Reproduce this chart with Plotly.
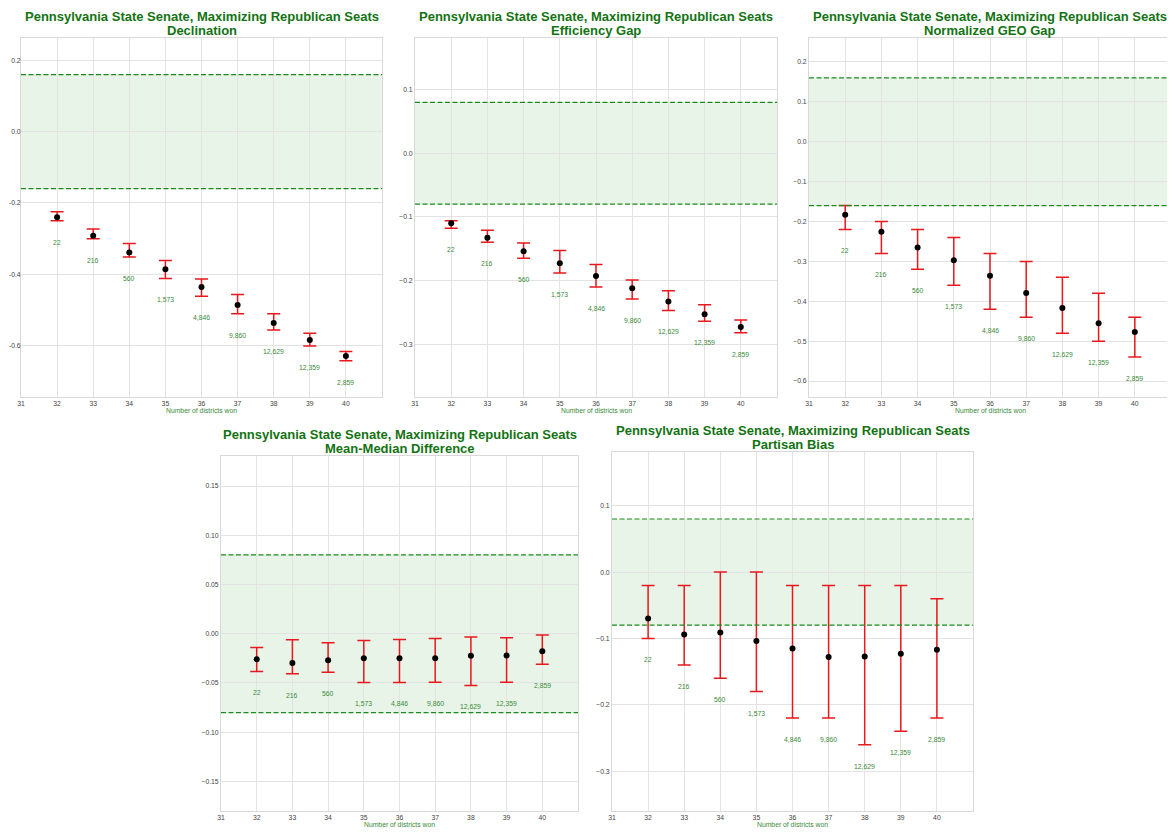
import plotly.graph_objects as go

# The page body has an 8px default margin; the figure is sized and positioned to compensate.
OFF = 8
W, H = 1175 - OFF, 840 - OFF

districts = [32, 33, 34, 35, 36, 37, 38, 39, 40]
counts = ["22", "216", "560", "1,573", "4,846", "9,860", "12,629", "12,359", "2,859"]
title_prefix = "Pennsylvania State Senate, Maximizing Republican Seats"
x_title = "Number of districts won"

# Declination
dec_mean = [-0.240, -0.292, -0.339, -0.386, -0.436, -0.487, -0.537, -0.585, -0.630]
dec_hi = [-0.225, -0.273, -0.314, -0.362, -0.414, -0.457, -0.511, -0.566, -0.617]
dec_lo = [-0.250, -0.301, -0.352, -0.412, -0.462, -0.511, -0.557, -0.602, -0.643]
dec_ticks = [0.2, 0.0, -0.2, -0.4, -0.6]

# Efficiency Gap
eg_mean = [-0.110, -0.133, -0.154, -0.173, -0.193, -0.212, -0.233, -0.253, -0.273]
eg_hi = [-0.106, -0.121, -0.141, -0.153, -0.175, -0.199, -0.216, -0.238, -0.262]
eg_lo = [-0.118, -0.140, -0.165, -0.188, -0.210, -0.229, -0.247, -0.264, -0.282]
eg_ticks = [0.1, 0.0, -0.1, -0.2, -0.3]

# Normalized GEO Gap
geo_mean = [-0.183, -0.226, -0.265, -0.297, -0.336, -0.379, -0.417, -0.455, -0.477]
geo_hi = [-0.16, -0.20, -0.22, -0.24, -0.28, -0.30, -0.34, -0.38, -0.44]
geo_lo = [-0.22, -0.28, -0.32, -0.36, -0.42, -0.44, -0.48, -0.50, -0.54]
geo_ticks = [0.2, 0.1, 0.0, -0.1, -0.2, -0.3, -0.4, -0.5, -0.6]

# Mean-Median Difference
mm_mean = [-0.0258, -0.0298, -0.0268, -0.0248, -0.0248, -0.0248, -0.0224, -0.0221, -0.0177]
mm_hi = [-0.0139, -0.0061, -0.0091, -0.0068, -0.0058, -0.0048, -0.0034, -0.0041, -0.0014]
mm_lo = [-0.0383, -0.0407, -0.0390, -0.0495, -0.0495, -0.0492, -0.0525, -0.0492, -0.0309]
mm_ticks = [0.15, 0.10, 0.05, 0.0, -0.05, -0.10, -0.15]

# Partisan Bias
pb_mean = [-0.070, -0.094, -0.091, -0.104, -0.115, -0.128, -0.127, -0.123, -0.117]
pb_hi = [-0.02, -0.02, 0.0, 0.0, -0.02, -0.02, -0.02, -0.02, -0.04]
pb_lo = [-0.10, -0.14, -0.16, -0.18, -0.22, -0.22, -0.26, -0.24, -0.22]
pb_ticks = [0.1, 0.0, -0.1, -0.2, -0.3]

panels = [
    dict(name="Declination", mean=dec_mean, hi=dec_hi, lo=dec_lo, band=0.16,
         yrange=[-0.745, 0.263], ticks=dec_ticks, dec=1, minus="-",
         px=(21, 382), py=(38, 397)),
    dict(name="Efficiency Gap", mean=eg_mean, hi=eg_hi, lo=eg_lo, band=0.08,
         yrange=[-0.383, 0.181], ticks=eg_ticks, dec=1, minus="\u2212",
         px=(415, 777), py=(38, 397)),
    dict(name="Normalized GEO Gap", mean=geo_mean, hi=geo_hi, lo=geo_lo, band=0.16,
         yrange=[-0.640, 0.260], ticks=geo_ticks, dec=1, minus="\u2212",
         px=(809, 1171), py=(38, 397)),
    dict(name="Mean-Median Difference", mean=mm_mean, hi=mm_hi, lo=mm_lo, band=0.08,
         yrange=[-0.180, 0.1805], ticks=mm_ticks, dec=2, minus="\u2212",
         px=(221, 578), py=(456, 811)),
    dict(name="Partisan Bias", mean=pb_mean, hi=pb_hi, lo=pb_lo, band=0.08,
         yrange=[-0.360, 0.181], ticks=pb_ticks, dec=1, minus="\u2212",
         px=(612, 973), py=(452, 811)),
]

TITLE_GREEN = "#137313"
LABEL_GREEN = "#3a8a3a"
GRID = "#e3e3e3"
TICK_COLOR = "#444444"
FONT = "Liberation Sans, Arial, sans-serif"
SMALL = 6.8


def fx(px):
    return (px - OFF) / W


def fy(py):
    return 1 - (py - OFF) / H


def fmt_tick(v, dec, minus):
    s = f"{abs(v):.{dec}f}"
    return (minus + s) if v < 0 else s


fig = go.Figure()
layout = dict(
    width=W, height=H,
    margin=dict(l=0, r=0, t=0, b=0, autoexpand=False),
    paper_bgcolor="white", plot_bgcolor="white",
    showlegend=False,
    font=dict(family=FONT),
)
shapes = []
annotations = []

for i, p in enumerate(panels):
    k = "" if i == 0 else str(i + 1)
    xa, ya = "x" + k, "y" + k
    x0, x1 = p["px"]
    y0, y1 = p["py"]
    layout["xaxis" + k] = dict(
        domain=[fx(x0), fx(x1)], range=[31, 41], anchor=ya, automargin=False,
        tickmode="array", tickvals=list(range(31, 41)),
        ticktext=[str(v) for v in range(31, 41)],
        showgrid=True, gridcolor=GRID, gridwidth=1,
        zeroline=False, showline=True, linecolor="#d9d9d9", linewidth=1, mirror=True,
        ticks="", ticklen=0, tickfont=dict(size=SMALL, color=TICK_COLOR, family=FONT),
    )
    layout["yaxis" + k] = dict(
        domain=[fy(y1), fy(y0)], range=p["yrange"], anchor=xa, automargin=False,
        tickmode="array", tickvals=p["ticks"],
        ticktext=[fmt_tick(v, p["dec"], p["minus"]) for v in p["ticks"]],
        showgrid=True, gridcolor=GRID, gridwidth=1,
        zeroline=False, showline=True, linecolor="#d9d9d9", linewidth=1, mirror=True,
        ticks="", ticklen=0, tickfont=dict(size=SMALL, color=TICK_COLOR, family=FONT),
    )
    b = p["band"]
    shapes.append(dict(type="rect", xref=xa + " domain", yref=ya, x0=0, x1=1, y0=-b, y1=b,
                       fillcolor="rgba(0,128,0,0.09)", line=dict(width=0), layer="below"))
    for yv in (-b, b):
        shapes.append(dict(type="line", xref=xa + " domain", yref=ya, x0=0, x1=1, y0=yv, y1=yv,
                           line=dict(color="#1a8a1a", width=1.2, dash="5px,2.5px")))
    err_plus = [h - m for h, m in zip(p["hi"], p["mean"])]
    err_minus = [m - l for m, l in zip(p["mean"], p["lo"])]
    fig.add_trace(go.Scatter(
        x=districts, y=p["mean"], mode="markers", xaxis=xa, yaxis=ya,
        marker=dict(color="black", size=6),
        error_y=dict(type="data", symmetric=False, array=err_plus, arrayminus=err_minus,
                     color="#e8191c", thickness=1.5, width=6.5),
    ))
    for xv, lv, c in zip(districts, p["lo"], counts):
        annotations.append(dict(x=xv, y=lv, xref=xa, yref=ya, text=c, showarrow=False,
                                yshift=-21.5, yanchor="middle",
                                font=dict(size=SMALL, color=LABEL_GREEN, family=FONT)))
    cx = fx((x0 + x1) / 2)
    # x-axis title
    annotations.append(dict(x=cx, y=fy(y1 + 13.5), xref="paper", yref="paper",
                            text=x_title, showarrow=False, yanchor="middle", xanchor="center",
                            font=dict(size=SMALL, color=LABEL_GREEN, family=FONT)))
    # two-line bold title
    annotations.append(dict(x=cx, y=fy(y0 - 21.4), xref="paper", yref="paper",
                            text="<b>" + title_prefix + "</b>", showarrow=False,
                            yanchor="middle", xanchor="center",
                            font=dict(size=13, color=TITLE_GREEN, family=FONT)))
    annotations.append(dict(x=cx, y=fy(y0 - 7.8), xref="paper", yref="paper",
                            text="<b>" + p["name"] + "</b>", showarrow=False,
                            yanchor="middle", xanchor="center",
                            font=dict(size=13, color=TITLE_GREEN, family=FONT)))

layout["shapes"] = shapes
layout["annotations"] = annotations
fig.update_layout(**layout)
fig.update_layout(yaxis=dict(ticklabelstandoff=-2))
fig.write_html("out.html")
